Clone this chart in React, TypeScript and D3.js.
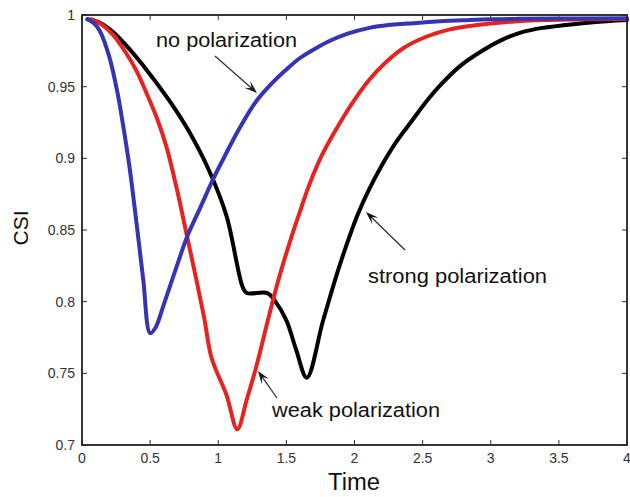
import React from "react";
import * as d3 from "d3";

// ---- data ----
const noPolT = [0.04, 0.09, 0.13, 0.2, 0.26, 0.3, 0.35, 0.41, 0.45, 0.5, 0.54, 0.6, 0.7, 0.77, 0.87, 0.96, 1.05, 1.15, 1.28, 1.4, 1.5, 1.6, 1.72, 1.82, 1.95, 2.11, 2.25, 2.39, 2.6, 2.8, 3.0, 3.2, 3.5, 4.0];
const noPolV = [0.997, 0.994, 0.989, 0.971, 0.946, 0.924, 0.893, 0.847, 0.815, 0.778, 0.782, 0.798, 0.826, 0.845, 0.866, 0.885, 0.902, 0.92, 0.94, 0.953, 0.962, 0.97, 0.977, 0.982, 0.987, 0.991, 0.993, 0.994, 0.9955, 0.9963, 0.997, 0.9973, 0.9975, 0.9977];

const weakPolT = [0.07, 0.15, 0.23, 0.32, 0.4, 0.48, 0.55, 0.62, 0.7, 0.77, 0.84, 0.9, 0.95, 1.06, 1.14, 1.21, 1.28, 1.38, 1.45, 1.53, 1.6, 1.67, 1.76, 1.87, 1.98, 2.11, 2.23, 2.36, 2.53, 2.7, 2.9, 3.1, 3.38, 3.7, 4.0];
const weakPolV = [0.997, 0.993, 0.986, 0.974, 0.961, 0.944, 0.928, 0.908, 0.877, 0.846, 0.815, 0.787, 0.761, 0.735, 0.711, 0.732, 0.755, 0.793, 0.818, 0.843, 0.863, 0.882, 0.902, 0.921, 0.938, 0.955, 0.967, 0.977, 0.985, 0.99, 0.993, 0.995, 0.9965, 0.997, 0.9972];

const strongPolT = [0.04, 0.12, 0.23, 0.35, 0.48, 0.65, 0.79, 0.93, 1.06, 1.18, 1.21, 1.36, 1.42, 1.5, 1.57, 1.65, 1.77, 1.89, 2.02, 2.1, 2.2, 2.31, 2.42, 2.53, 2.63, 2.77, 2.92, 3.09, 3.23, 3.38, 3.55, 3.75, 4.0];
const strongPolV = [0.997, 0.995, 0.988, 0.976, 0.961, 0.939, 0.918, 0.892, 0.86, 0.81, 0.806, 0.806, 0.8, 0.787, 0.767, 0.747, 0.787, 0.825, 0.86, 0.877, 0.895, 0.912, 0.926, 0.94, 0.951, 0.964, 0.974, 0.983, 0.988, 0.991, 0.993, 0.995, 0.9965];

const xTicks = [0, 0.5, 1, 1.5, 2, 2.5, 3, 3.5, 4];
const xTickLabels = ["0", "0.5", "1", "1.5", "2", "2.5", "3", "3.5", "4"];
const yTicks = [0.7, 0.75, 0.8, 0.85, 0.9, 0.95, 1];
const yTickLabels = ["0.7", "0.75", "0.8", "0.85", "0.9", "0.95", "1"];

const seriesNames = ["strong polarization", "weak polarization", "no polarization"];
const seriesColors = ["#000000", "#e8231f", "#3434b4"];

const W = 630;
const H = 497;
const left = 82, right = 627, top = 15, bottom = 445;

export default function App() {
  const x = d3.scaleLinear().domain([0, 4]).range([left, right]);
  const y = d3.scaleLinear().domain([0.7, 1]).range([bottom, top]);
  const line = d3
    .line<[number, number]>()
    .x((d) => x(d[0]))
    .y((d) => y(d[1]))
    .curve(d3.curveCatmullRom.alpha(0.5));

  const series = [
    { t: strongPolT, v: strongPolV },
    { t: weakPolT, v: weakPolV },
    { t: noPolT, v: noPolV },
  ];

  const font = "'Liberation Sans', Arial, Helvetica, sans-serif";
  const tickLen = 5;

  const arrow = (x1: number, y1: number, x2: number, y2: number, key: string) => {
    const ang = Math.atan2(y2 - y1, x2 - x1);
    const L = 13, Wd = 4.5;
    const bx = x2 - L * Math.cos(ang), by = y2 - L * Math.sin(ang);
    const px = -Math.sin(ang), py = Math.cos(ang);
    const mx = x2 - 0.55 * L * Math.cos(ang), my = y2 - 0.55 * L * Math.sin(ang);
    const pts = `${x2},${y2} ${bx + px * Wd},${by + py * Wd} ${mx},${my} ${bx - px * Wd},${by - py * Wd}`;
    return (
      <g key={key}>
        <line x1={x1} y1={y1} x2={mx} y2={my} stroke="#333" strokeWidth={1.3} />
        <polygon points={pts} fill="#111" />
      </g>
    );
  };

  return (
    <div style={{ position: "absolute", left: 0, top: 0 }}>
      <svg width={W} height={H} style={{ display: "block", background: "#fff" }} fontFamily={font}>
        <rect x={0} y={0} width={W} height={H} fill="#fff" />
        {xTicks.map((t, i) => (
          <g key={"xt" + i}>
            <line x1={x(t)} x2={x(t)} y1={bottom} y2={bottom - tickLen} stroke="#333" strokeWidth={1} />
            <line x1={x(t)} x2={x(t)} y1={top} y2={top + tickLen} stroke="#333" strokeWidth={1} />
            <text x={x(t)} y={463} textAnchor="middle" fontSize={14} fill="#333">
              {xTickLabels[i]}
            </text>
          </g>
        ))}
        {yTicks.map((t, i) => (
          <g key={"yt" + i}>
            <line x1={left} x2={left + tickLen} y1={y(t)} y2={y(t)} stroke="#333" strokeWidth={1} />
            <line x1={right} x2={right - tickLen} y1={y(t)} y2={y(t)} stroke="#333" strokeWidth={1} />
            <text x={75} y={y(t) + 5} textAnchor="end" fontSize={14} fill="#333">
              {yTickLabels[i]}
            </text>
          </g>
        ))}
        {series.map((s, i) => (
          <path
            key={seriesNames[i]}
            d={line(s.t.map((t, j) => [t, s.v[j]] as [number, number])) || ""}
            fill="none"
            stroke={seriesColors[i]}
            strokeWidth={4}
            strokeLinejoin="round"
            strokeLinecap="round"
          />
        ))}
        <rect x={left} y={top} width={right - left} height={bottom - top} fill="none" stroke="#222" strokeWidth={1.8} />
        <text x={156} y={47} fontSize={19.5} fill="#111" textLength={141} lengthAdjust="spacingAndGlyphs">
          {seriesNames[2]}
        </text>
        {arrow(215, 56, 257, 93, "a1")}
        <text x={368} y={283} fontSize={19.5} fill="#111" textLength={179} lengthAdjust="spacingAndGlyphs">
          {seriesNames[0]}
        </text>
        {arrow(405, 250, 366, 212, "a2")}
        <text x={272} y={417} fontSize={19.5} fill="#111" textLength={168} lengthAdjust="spacingAndGlyphs">
          {seriesNames[1]}
        </text>
        {arrow(277, 398, 258, 371, "a3")}
        <text x={328} y={490} fontSize={23} fill="#111" textLength={52} lengthAdjust="spacingAndGlyphs">
          Time
        </text>
        <text transform={`translate(28, 228) rotate(-90)`} textAnchor="middle" fontSize={21} fill="#111">
          CSI
        </text>
      </svg>
    </div>
  );
}
